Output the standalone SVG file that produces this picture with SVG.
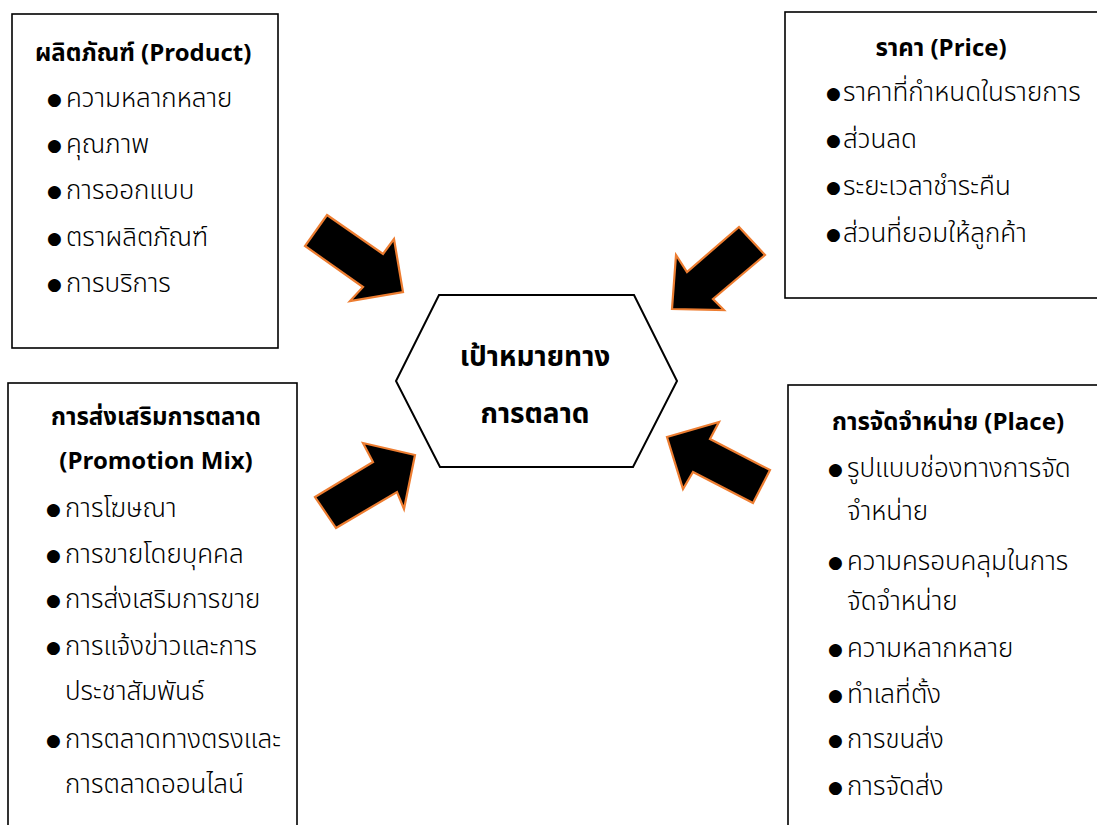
<svg xmlns="http://www.w3.org/2000/svg" width="1097" height="825" viewBox="0 0 1097 825">
<style>
.box{fill:#fff;stroke:#000;stroke-width:1.6}
.hex{fill:#fff;stroke:#000;stroke-width:2}
.arr{fill:#000;stroke:#ED7D31;stroke-width:2.2;stroke-linejoin:miter}
text{font-family:'Noto Sans Thai','Noto Sans','DejaVu Sans',sans-serif;font-size:26px;font-weight:300;fill:#000}
.t{font-weight:bold;font-size:24px}
.h{font-weight:bold;font-size:28px}
.b{font-family:'DejaVu Sans',sans-serif;font-weight:normal;font-size:17px}
</style>
<rect width="1097" height="825" fill="#fff"/>
<g id="connectors">
<polygon class="arr" points="327,215 383,254 394,239 403,292 350,301 363,287 305,246"/>
<polygon class="arr" points="739,227 765,255 713,299 724,310 672,309 676,255 687,272"/>
<polygon class="arr" points="315,497 373,462 363,443 415,455 404,509 397,492 336,528"/>
<polygon class="arr" points="667,437 719,422 710,439 770,470 753,503 693,472 683,489"/>
</g>
<g id="product">
<rect class="box" x="12" y="14" width="266" height="334"/>
<text class="t" x="35" y="61">ผลิตภัณฑ์ (Product)</text>
<text y="107"><tspan class="b" x="47" dy="-2">●</tspan><tspan x="66" dy="2">ความหลากหลาย</tspan></text>
<text y="153"><tspan class="b" x="47" dy="-2">●</tspan><tspan x="66" dy="2">คุณภาพ</tspan></text>
<text y="199"><tspan class="b" x="47" dy="-2">●</tspan><tspan x="66" dy="2">การออกแบบ</tspan></text>
<text y="246"><tspan class="b" x="47" dy="-2">●</tspan><tspan x="66" dy="2">ตราผลิตภัณฑ์</tspan></text>
<text y="292"><tspan class="b" x="47" dy="-2">●</tspan><tspan x="66" dy="2">การบริการ</tspan></text>
</g>
<g id="price">
<rect class="box" x="785" y="12" width="320" height="286"/>
<text class="t" x="941" y="56" text-anchor="middle">ราคา (Price)</text>
<text y="101"><tspan class="b" x="826" dy="-2">●</tspan><tspan x="843" dy="2">ราคาที่กำหนดในรายการ</tspan></text>
<text y="148"><tspan class="b" x="826" dy="-2">●</tspan><tspan x="843" dy="2">ส่วนลด</tspan></text>
<text y="195"><tspan class="b" x="826" dy="-2">●</tspan><tspan x="843" dy="2">ระยะเวลาชำระคืน</tspan></text>
<text y="242"><tspan class="b" x="826" dy="-2">●</tspan><tspan x="843" dy="2">ส่วนที่ยอมให้ลูกค้า</tspan></text>
</g>
<g id="promotion">
<rect class="box" x="8" y="383" width="289" height="450"/>
<text class="t" x="156" y="425" text-anchor="middle">การส่งเสริมการตลาด</text>
<text class="t" x="156" y="469" text-anchor="middle">(Promotion Mix)</text>
<text y="517"><tspan class="b" x="46" dy="-2">●</tspan><tspan x="65" dy="2">การโฆษณา</tspan></text>
<text y="563"><tspan class="b" x="46" dy="-2">●</tspan><tspan x="65" dy="2">การขายโดยบุคคล</tspan></text>
<text y="608"><tspan class="b" x="46" dy="-2">●</tspan><tspan x="65" dy="2">การส่งเสริมการขาย</tspan></text>
<text y="655"><tspan class="b" x="46" dy="-2">●</tspan><tspan x="65" dy="2">การแจ้งข่าวและการ</tspan></text>
<text x="65" y="700">ประชาสัมพันธ์</text>
<text y="748"><tspan class="b" x="46" dy="-2">●</tspan><tspan x="65" dy="2">การตลาดทางตรงและ</tspan></text>
<text x="65" y="793">การตลาดออนไลน์</text>
</g>
<g id="place">
<rect class="box" x="788" y="385" width="320" height="450"/>
<text class="t" x="948" y="430" text-anchor="middle">การจัดจำหน่าย (Place)</text>
<text y="477"><tspan class="b" x="828" dy="-2">●</tspan><tspan x="847" dy="2">รูปแบบช่องทางการจัด</tspan></text>
<text x="847" y="520">จำหน่าย</text>
<text y="570"><tspan class="b" x="828" dy="-2">●</tspan><tspan x="847" dy="2">ความครอบคลุมในการ</tspan></text>
<text x="847" y="610">จัดจำหน่าย</text>
<text y="657"><tspan class="b" x="828" dy="-2">●</tspan><tspan x="847" dy="2">ความหลากหลาย</tspan></text>
<text y="703"><tspan class="b" x="828" dy="-2">●</tspan><tspan x="847" dy="2">ทำเลที่ตั้ง</tspan></text>
<text y="748"><tspan class="b" x="828" dy="-2">●</tspan><tspan x="847" dy="2">การขนส่ง</tspan></text>
<text y="795"><tspan class="b" x="828" dy="-2">●</tspan><tspan x="847" dy="2">การจัดส่ง</tspan></text>
</g>
<g id="goal">
<polygon class="hex" points="439,295 634,295 677,381 633,467 440,467 396,381"/>
<text class="h" x="535" y="366" text-anchor="middle">เป้าหมายทาง</text>
<text class="h" x="535" y="423" text-anchor="middle">การตลาด</text>
</g>
</svg>
